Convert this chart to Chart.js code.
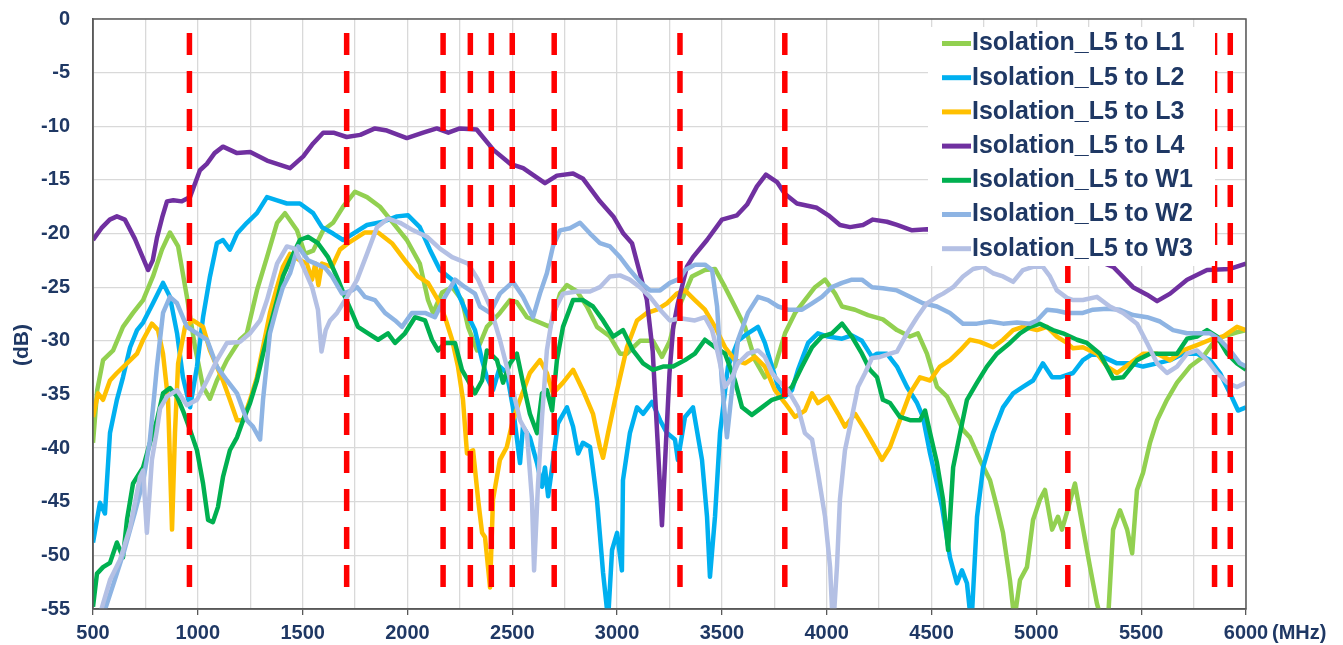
<!DOCTYPE html>
<html>
<head>
<meta charset="utf-8">
<script src="https://cdn.jsdelivr.net/npm/chart.js@4.4.1/dist/chart.umd.min.js"></script>
<style>
  html, body { margin: 0; padding: 0; background: #fff; }
  #wrap { width: 1343px; height: 645px; }
</style>
</head>
<body>
<div id="wrap"><canvas id="myChart" width="1343" height="645"></canvas></div>
<script>
// series labels / colours (same order as the Excel legend)
const seriesLabels = ['Isolation_L5 to L1', 'Isolation_L5 to L2', 'Isolation_L5 to L3', 'Isolation_L5 to L4',
                      'Isolation_L5 to W1', 'Isolation_L5 to W2', 'Isolation_L5 to W3'];
const seriesColors = ['#92d050', '#00b0f0', '#ffc000', '#7030a0', '#00b050', '#8eb4e3', '#b4c0e4'];

// band edge markers (MHz), drawn as red dashed verticals
const markerFreqs = [960, 1710, 2170, 2300, 2400, 2500, 2700, 3300, 3800, 5150, 5850, 5925];
const markerTop = -1.3;
const markerBottom = -53.9;

// [MHz, dB]
const isoL1 = [[500,-39.5],[520,-34.6],[548,-31.8],[596,-30.9],[643,-28.7],[691,-27.4],[739,-26.2],[786,-24.0],[829,-21.5],[867,-19.9],[906,-21.2],[948,-25.9],[987,-30.6],[1025,-34.3],[1058,-35.4],[1091,-33.7],[1139,-31.8],[1201,-29.9],[1234,-29.3],[1282,-25.3],[1330,-22.2],[1378,-19.0],[1416,-18.1],[1473,-19.7],[1511,-21.9],[1550,-21.6],[1598,-19.7],[1645,-19.0],[1693,-17.5],[1750,-16.1],[1807,-16.6],[1869,-17.5],[1931,-19.0],[1997,-20.6],[2059,-22.8],[2098,-26.2],[2122,-27.4],[2165,-25.5],[2213,-25.0],[2260,-26.2],[2289,-28.7],[2332,-30.9],[2356,-29.8],[2379,-28.7],[2441,-27.4],[2489,-26.2],[2522,-26.4],[2570,-27.8],[2632,-28.3],[2680,-28.7],[2728,-25.6],[2761,-24.8],[2809,-25.4],[2856,-26.8],[2904,-28.7],[2966,-29.6],[3014,-31.2],[3047,-31.2],[3109,-30.0],[3171,-30.0],[3214,-31.5],[3252,-30.0],[3285,-27.4],[3309,-26.2],[3357,-24.0],[3419,-23.4],[3467,-23.3],[3515,-25.0],[3562,-26.8],[3610,-28.7],[3658,-31.8],[3705,-33.4],[3753,-32.4],[3801,-29.3],[3849,-27.4],[3896,-26.2],[3944,-25.0],[3992,-24.3],[4040,-25.6],[4073,-26.8],[4135,-27.1],[4197,-27.6],[4268,-28.0],[4335,-29.0],[4397,-29.6],[4435,-29.3],[4478,-31.2],[4526,-34.3],[4574,-35.2],[4621,-37.1],[4650,-38.3],[4683,-39.0],[4731,-41.1],[4779,-43.0],[4812,-45.5],[4841,-47.9],[4874,-52.3],[4895,-56.0],[4922,-52.3],[4955,-51.1],[4984,-46.7],[5017,-44.8],[5041,-43.9],[5075,-47.6],[5103,-46.4],[5122,-47.6],[5146,-46.0],[5184,-43.3],[5218,-47.0],[5256,-51.1],[5289,-54.5],[5318,-56.5],[5342,-56.0],[5366,-47.6],[5399,-45.8],[5433,-47.6],[5457,-49.8],[5480,-43.9],[5509,-42.3],[5542,-39.5],[5576,-37.4],[5623,-35.5],[5671,-33.9],[5733,-32.4],[5795,-31.5],[5843,-30.2],[5890,-29.6],[5957,-29.2],[6000,-29.0]];

const isoL2 = [[500,-48.8],[533,-45.1],[557,-46.1],[581,-38.6],[614,-35.5],[643,-33.4],[677,-30.6],[710,-29.0],[739,-28.3],[786,-26.5],[834,-24.6],[867,-25.9],[901,-29.3],[929,-33.4],[963,-36.2],[996,-32.4],[1025,-27.8],[1058,-24.0],[1091,-20.9],[1120,-20.6],[1153,-21.5],[1187,-20.0],[1234,-19.0],[1282,-18.1],[1330,-16.6],[1378,-16.9],[1425,-17.2],[1487,-17.2],[1550,-18.1],[1592,-19.4],[1645,-20.0],[1693,-20.6],[1741,-20.0],[1807,-19.2],[1884,-18.9],[1950,-18.4],[2003,-18.3],[2059,-19.4],[2107,-21.5],[2155,-23.4],[2213,-24.3],[2275,-27.1],[2322,-29.0],[2356,-31.8],[2379,-33.4],[2408,-34.6],[2441,-32.4],[2474,-33.0],[2503,-36.2],[2537,-41.4],[2551,-38.0],[2584,-39.0],[2618,-41.4],[2642,-43.6],[2656,-41.8],[2671,-44.5],[2690,-41.8],[2718,-37.7],[2761,-36.2],[2790,-38.0],[2814,-40.5],[2837,-39.5],[2871,-39.9],[2904,-44.8],[2933,-51.6],[2957,-56.0],[2976,-49.5],[3000,-47.9],[3023,-51.4],[3028,-43.0],[3061,-38.6],[3095,-36.2],[3124,-36.8],[3167,-35.7],[3205,-37.4],[3238,-38.6],[3276,-39.2],[3290,-41.1],[3324,-37.1],[3362,-36.2],[3405,-41.1],[3429,-46.4],[3443,-52.0],[3467,-46.4],[3491,-38.6],[3529,-32.4],[3577,-30.0],[3624,-29.3],[3672,-28.7],[3705,-30.2],[3739,-32.4],[3768,-34.3],[3801,-35.2],[3834,-34.6],[3863,-32.7],[3911,-30.2],[3958,-29.3],[4006,-29.6],[4073,-29.8],[4120,-29.5],[4168,-30.0],[4216,-31.5],[4240,-31.2],[4287,-31.2],[4335,-32.4],[4383,-34.3],[4431,-35.8],[4459,-37.1],[4493,-40.5],[4526,-43.3],[4550,-45.5],[4588,-50.2],[4621,-52.6],[4645,-51.4],[4669,-52.6],[4690,-56.5],[4717,-46.4],[4746,-41.8],[4793,-38.6],[4841,-36.2],[4889,-34.9],[4936,-34.3],[4984,-33.7],[5031,-32.1],[5075,-33.4],[5113,-33.4],[5175,-33.0],[5222,-31.8],[5270,-31.2],[5318,-31.5],[5385,-32.1],[5447,-32.1],[5509,-32.4],[5576,-32.1],[5638,-31.8],[5700,-31.2],[5766,-31.2],[5829,-31.8],[5876,-33.0],[5924,-34.9],[5962,-36.5],[6000,-36.2]];

const isoL3 = [[500,-37.1],[524,-34.9],[548,-35.5],[581,-33.7],[614,-33.0],[662,-32.1],[710,-31.2],[739,-29.9],[781,-28.4],[810,-29.0],[834,-31.2],[858,-35.5],[877,-47.6],[891,-38.6],[906,-32.1],[939,-28.7],[977,-28.1],[1025,-28.7],[1058,-30.9],[1091,-32.4],[1120,-33.7],[1153,-35.5],[1187,-37.4],[1216,-37.4],[1249,-35.5],[1282,-33.4],[1311,-30.6],[1344,-27.4],[1378,-25.0],[1406,-23.1],[1440,-21.9],[1487,-22.5],[1520,-22.8],[1545,-24.3],[1560,-22.8],[1575,-24.8],[1592,-22.8],[1640,-23.1],[1678,-21.5],[1717,-20.9],[1797,-19.9],[1860,-19.9],[1926,-20.9],[1988,-22.5],[2050,-24.0],[2098,-24.6],[2146,-26.2],[2179,-27.8],[2213,-29.9],[2241,-32.4],[2265,-35.5],[2284,-40.5],[2313,-40.2],[2337,-44.8],[2356,-47.9],[2370,-48.3],[2394,-53.0],[2408,-44.8],[2441,-41.1],[2474,-39.9],[2503,-37.4],[2537,-35.5],[2584,-33.0],[2632,-31.8],[2665,-33.0],[2694,-34.9],[2742,-33.9],[2790,-32.7],[2837,-34.6],[2885,-36.8],[2918,-39.9],[2933,-40.9],[2957,-38.6],[3000,-34.6],[3047,-30.6],[3095,-28.1],[3143,-27.4],[3190,-27.1],[3238,-26.5],[3285,-25.6],[3324,-25.3],[3371,-26.2],[3419,-27.1],[3467,-28.7],[3515,-30.6],[3562,-31.8],[3610,-32.1],[3658,-31.5],[3705,-32.4],[3753,-34.6],[3801,-35.8],[3849,-37.1],[3896,-36.5],[3930,-34.9],[3958,-35.8],[4006,-35.2],[4054,-36.8],[4087,-38.0],[4135,-36.8],[4183,-38.3],[4230,-39.9],[4264,-41.1],[4302,-39.9],[4349,-37.4],[4397,-34.9],[4445,-33.4],[4493,-33.7],[4540,-32.4],[4588,-31.8],[4636,-30.9],[4683,-29.9],[4731,-30.1],[4793,-30.6],[4841,-29.9],[4889,-29.0],[4936,-28.7],[5003,-29.0],[5051,-28.7],[5098,-29.6],[5146,-30.2],[5175,-30.7],[5222,-30.6],[5289,-31.2],[5337,-32.4],[5385,-33.0],[5447,-32.1],[5509,-31.2],[5576,-31.2],[5638,-31.8],[5700,-30.9],[5766,-30.4],[5829,-29.9],[5890,-29.6],[5957,-28.7],[6000,-29.0]];

const isoL4 = [[500,-20.6],[540,-19.5],[580,-18.7],[614,-18.4],[652,-18.7],[700,-20.5],[763,-23.4],[785,-22.5],[805,-20.4],[830,-18.5],[853,-17.0],[883,-16.9],[924,-17.0],[963,-16.6],[1010,-14.1],[1043,-13.5],[1080,-12.5],[1120,-11.9],[1187,-12.5],[1250,-12.4],[1330,-13.2],[1440,-13.9],[1503,-12.8],[1550,-11.6],[1598,-10.6],[1647,-10.6],[1710,-11.0],[1775,-10.8],[1845,-10.2],[1902,-10.4],[1997,-11.1],[2075,-10.6],[2140,-10.2],[2195,-10.6],[2250,-10.2],[2330,-10.3],[2410,-12.2],[2490,-13.5],[2552,-13.9],[2656,-15.3],[2713,-14.6],[2790,-14.4],[2838,-14.9],[2918,-17.0],[2982,-18.4],[3030,-20.0],[3071,-20.9],[3109,-23.7],[3142,-26.2],[3170,-31.0],[3195,-40.0],[3214,-47.2],[3232,-40.0],[3250,-33.0],[3268,-28.7],[3290,-26.5],[3333,-23.1],[3362,-22.2],[3429,-20.6],[3500,-18.7],[3572,-18.3],[3620,-17.3],[3667,-15.6],[3710,-14.5],[3763,-15.2],[3800,-16.3],[3858,-17.2],[3953,-17.6],[4008,-18.3],[4063,-19.2],[4111,-19.4],[4173,-19.2],[4220,-18.7],[4287,-18.9],[4335,-19.2],[4407,-19.7],[4478,-19.6],[4600,-20.1],[4750,-20.6],[4900,-21.2],[5050,-21.6],[5200,-22.2],[5300,-22.6],[5366,-23.1],[5461,-25.0],[5528,-25.7],[5576,-26.3],[5638,-25.6],[5719,-24.3],[5814,-23.4],[5923,-23.3],[6000,-22.8]];

const isoW1 = [[500,-54.8],[519,-51.7],[548,-51.1],[581,-50.7],[614,-48.8],[643,-50.2],[662,-46.7],[691,-43.3],[739,-41.8],[772,-39.5],[805,-37.4],[834,-34.9],[867,-34.4],[901,-35.2],[929,-36.5],[963,-38.3],[996,-40.2],[1025,-43.3],[1049,-46.7],[1072,-46.9],[1096,-45.5],[1120,-42.7],[1153,-40.2],[1187,-39.0],[1216,-37.4],[1249,-35.8],[1282,-33.7],[1311,-31.2],[1344,-28.7],[1378,-26.2],[1406,-24.0],[1440,-22.5],[1487,-20.6],[1526,-20.3],[1573,-20.9],[1621,-22.2],[1669,-24.3],[1702,-25.9],[1736,-27.4],[1764,-28.7],[1812,-29.3],[1860,-29.9],[1907,-29.3],[1941,-30.2],[1988,-29.3],[2036,-27.8],[2084,-28.1],[2117,-29.9],[2146,-30.9],[2179,-30.2],[2227,-30.2],[2260,-32.7],[2289,-33.7],[2322,-34.9],[2356,-33.7],[2379,-30.9],[2427,-31.8],[2456,-33.9],[2489,-32.1],[2522,-31.2],[2551,-33.9],[2584,-36.8],[2618,-38.6],[2642,-34.9],[2665,-34.6],[2690,-36.5],[2713,-31.8],[2742,-28.7],[2790,-26.2],[2837,-26.2],[2885,-26.8],[2933,-28.1],[2981,-29.6],[3028,-29.0],[3076,-30.9],[3124,-32.1],[3171,-32.7],[3219,-32.4],[3267,-32.4],[3324,-31.8],[3371,-31.2],[3419,-29.9],[3467,-30.6],[3515,-31.2],[3562,-33.7],[3596,-36.2],[3643,-36.9],[3691,-36.2],[3739,-35.5],[3787,-35.2],[3834,-34.3],[3882,-32.4],[3930,-30.6],[3977,-29.6],[4025,-29.3],[4073,-28.4],[4120,-29.6],[4168,-31.2],[4206,-32.7],[4240,-33.4],[4268,-35.5],[4302,-35.8],[4349,-37.1],[4397,-37.4],[4445,-37.4],[4469,-36.5],[4493,-38.6],[4526,-41.4],[4555,-44.8],[4579,-49.5],[4603,-41.8],[4636,-38.6],[4669,-35.5],[4717,-33.9],[4764,-32.4],[4812,-31.2],[4874,-30.2],[4922,-29.3],[4970,-28.7],[5017,-28.4],[5079,-29.0],[5127,-29.3],[5194,-29.9],[5241,-30.2],[5303,-31.2],[5366,-33.5],[5414,-33.4],[5480,-31.8],[5542,-31.2],[5604,-31.2],[5671,-31.2],[5719,-29.8],[5766,-29.6],[5814,-29.0],[5862,-29.6],[5910,-31.2],[5957,-32.1],[6000,-32.7]];

const isoW2 = [[500,-60.0],[550,-55.5],[600,-52.5],[650,-49.5],[700,-46.0],[740,-43.0],[770,-39.5],[790,-35.5],[805,-32.4],[834,-27.4],[867,-25.9],[901,-26.5],[948,-28.7],[996,-29.3],[1044,-29.9],[1091,-32.4],[1139,-33.7],[1187,-34.9],[1234,-37.4],[1263,-38.0],[1297,-39.2],[1311,-35.5],[1344,-29.3],[1378,-26.8],[1406,-25.0],[1440,-23.7],[1478,-21.2],[1526,-22.5],[1573,-22.9],[1607,-23.2],[1640,-24.0],[1688,-25.6],[1736,-25.3],[1760,-25.0],[1797,-25.9],[1845,-26.2],[1893,-27.4],[1941,-28.1],[1974,-28.7],[2021,-27.4],[2084,-27.4],[2131,-27.8],[2179,-25.9],[2227,-24.3],[2275,-25.0],[2322,-25.6],[2346,-26.8],[2394,-27.4],[2441,-25.6],[2503,-24.5],[2551,-25.9],[2599,-27.8],[2632,-25.6],[2665,-23.7],[2694,-21.2],[2728,-19.7],[2775,-19.5],[2823,-19.0],[2871,-20.0],[2918,-20.9],[2966,-21.2],[3014,-22.2],[3061,-23.4],[3109,-24.5],[3157,-25.3],[3205,-25.3],[3252,-24.6],[3300,-24.2],[3324,-23.4],[3371,-22.9],[3419,-22.9],[3453,-23.4],[3477,-26.8],[3500,-33.9],[3524,-39.0],[3548,-34.6],[3577,-29.9],[3624,-27.4],[3672,-25.9],[3720,-26.2],[3768,-26.8],[3815,-27.1],[3882,-27.1],[3930,-26.5],[3977,-25.9],[4025,-25.0],[4073,-24.6],[4120,-24.3],[4168,-24.3],[4216,-25.0],[4268,-25.1],[4335,-25.3],[4397,-25.9],[4459,-26.5],[4526,-26.8],[4588,-27.4],[4650,-28.4],[4717,-28.4],[4779,-28.2],[4841,-28.4],[4907,-28.3],[4970,-28.4],[5003,-28.1],[5051,-27.1],[5098,-27.2],[5146,-27.4],[5222,-27.4],[5270,-27.1],[5337,-27.0],[5399,-27.1],[5461,-27.6],[5528,-27.8],[5590,-28.2],[5652,-29.0],[5719,-29.3],[5781,-29.3],[5829,-29.3],[5876,-29.9],[5924,-30.9],[5971,-32.1],[6000,-32.4]];

const isoW3 = [[500,-60.0],[533,-55.5],[581,-52.3],[629,-50.4],[677,-47.4],[724,-42.7],[739,-42.1],[757,-47.9],[781,-41.1],[805,-38.3],[820,-36.3],[853,-35.2],[901,-34.6],[948,-36.0],[996,-35.5],[1044,-33.7],[1091,-31.8],[1139,-30.2],[1201,-30.1],[1249,-29.3],[1297,-28.1],[1330,-26.2],[1378,-22.8],[1425,-21.2],[1463,-21.4],[1503,-23.1],[1545,-25.0],[1573,-27.1],[1590,-31.0],[1610,-29.0],[1631,-28.1],[1664,-27.4],[1712,-25.9],[1760,-24.3],[1807,-21.9],[1855,-19.4],[1908,-18.6],[1965,-19.0],[2027,-19.7],[2093,-20.3],[2155,-21.4],[2213,-22.2],[2289,-22.8],[2337,-24.3],[2394,-26.8],[2441,-29.9],[2474,-32.4],[2503,-34.6],[2537,-37.4],[2570,-38.6],[2594,-44.8],[2604,-51.4],[2623,-43.3],[2642,-37.1],[2665,-30.9],[2694,-27.4],[2742,-25.6],[2809,-25.4],[2871,-25.4],[2918,-25.0],[2966,-24.0],[3014,-23.9],[3061,-24.3],[3109,-25.0],[3157,-25.9],[3205,-27.1],[3252,-28.1],[3300,-27.9],[3371,-28.1],[3419,-27.8],[3453,-29.0],[3481,-31.2],[3515,-34.3],[3548,-33.4],[3577,-32.1],[3624,-31.2],[3672,-30.9],[3705,-31.5],[3739,-33.0],[3768,-33.7],[3815,-34.6],[3863,-36.2],[3896,-38.6],[3930,-39.2],[3958,-42.3],[3992,-46.4],[4016,-51.1],[4030,-57.0],[4049,-51.0],[4063,-44.8],[4087,-40.2],[4120,-37.1],[4149,-34.3],[4183,-33.0],[4216,-31.6],[4254,-31.5],[4302,-31.2],[4335,-31.0],[4383,-29.3],[4431,-27.8],[4478,-26.5],[4526,-25.9],[4555,-25.6],[4603,-25.0],[4650,-24.0],[4698,-23.3],[4746,-23.1],[4793,-23.7],[4841,-24.0],[4889,-24.5],[4936,-23.4],[4984,-23.1],[5031,-23.1],[5065,-24.0],[5098,-25.3],[5146,-26.0],[5175,-26.2],[5222,-26.2],[5289,-25.9],[5351,-26.8],[5414,-27.4],[5480,-28.4],[5528,-30.2],[5576,-32.1],[5623,-33.0],[5671,-32.4],[5719,-31.2],[5766,-30.9],[5814,-31.8],[5862,-33.0],[5910,-33.9],[5957,-34.3],[6000,-33.9]];

const seriesData = [isoL1, isoL2, isoL3, isoL4, isoW1, isoW2, isoW3];

const textColor = '#1f3864';
const fontFamily = "'Liberation Sans', Arial, sans-serif";
const tickFont = { family: fontFamily, size: 20, weight: 'bold' };

var datasets = [];
markerFreqs.forEach(function (f) {
    datasets.push({
        label: 'marker ' + f,
        data: [{ x: f, y: markerTop }, { x: f, y: markerBottom }],
        borderColor: '#ff0000',
        borderWidth: 5.5,
        borderDash: [22, 16],
        borderCapStyle: 'butt',
        pointRadius: 0,
        order: 0,
        clip: 0,
    });
});
seriesData.forEach(function (pts, i) {
    datasets.push({
        label: seriesLabels[i],
        data: pts.map(p => ({ x: p[0], y: p[1] })),
        borderColor: seriesColors[i],
        backgroundColor: seriesColors[i],
        borderWidth: 4.5,
        borderJoinStyle: 'round',
        pointRadius: 0,
        tension: 0,
        order: 10 - i,  // later series drawn on top, like Excel
        clip: 0,
    });
});

// frame, legend box and axis unit texts
const overlay = {
    id: 'overlay',
    afterDraw: (chart) => {
        const { ctx, chartArea: a } = chart;
        ctx.save();
        ctx.strokeStyle = '#595959';
        ctx.lineWidth = 1.5;
        ctx.strokeRect(a.left, a.top, a.right - a.left, a.bottom - a.top);

        // legend (white box inside the plot, top right)
        ctx.fillStyle = '#ffffff';
        ctx.fillRect(928, 27, 287, 239);
        ctx.font = 'bold 25px ' + fontFamily;
        ctx.textBaseline = 'middle';
        ctx.textAlign = 'left';
        seriesLabels.forEach((lab, i) => {
            const y = 43.5 + i * 34.2;
            ctx.strokeStyle = seriesColors[i];
            ctx.lineWidth = 5;
            ctx.beginPath();
            ctx.moveTo(942, y);
            ctx.lineTo(971, y);
            ctx.stroke();
            ctx.fillStyle = textColor;
            ctx.fillText(lab, 972, y);
        });

        // units
        ctx.fillStyle = textColor;
        ctx.font = 'bold 20px ' + fontFamily;
        ctx.fillText('(MHz)', 1272, 633);
        ctx.translate(22, 345);
        ctx.rotate(-Math.PI / 2);
        ctx.textAlign = 'center';
        ctx.font = 'bold 21px ' + fontFamily;
        ctx.fillText('(dB)', 0, 0);
        ctx.restore();
    }
};

new Chart(document.getElementById('myChart'), {
    type: 'line',
    data: { datasets: datasets },
    options: {
        responsive: false,
        animation: false,
        devicePixelRatio: 1,
        layout: { padding: { top: 19, right: 97, left: 0, bottom: 0 } },
        plugins: {
            legend: { display: false },
            tooltip: { enabled: false },
        },
        scales: {
            x: {
                type: 'linear',
                min: 500,
                max: 6000,
                afterFit: (s) => { s.height = 36; },
                ticks: {
                    stepSize: 250,
                    autoSkip: false,
                    maxRotation: 0,
                    padding: 6,
                    color: textColor,
                    font: tickFont,
                    callback: (v) => (v % 500 === 0 ? String(v) : ''),
                },
                grid: {
                    color: '#d9d9d9',
                    lineWidth: 1.3,
                    tickLength: 6,
                    tickColor: (c) => (c.tick && c.tick.value % 500 === 0 ? '#595959' : 'rgba(0,0,0,0)'),
                },
                border: { color: '#595959', width: 1.5 },
            },
            y: {
                min: -55,
                max: 0,
                afterFit: (s) => { s.width = 93; },
                // gap between labels and axis comes from an invisible tick mark,
                // ticks.padding would also push the plot top down
                ticks: { stepSize: 5, padding: 0, color: textColor, font: tickFont },
                grid: { color: '#d9d9d9', lineWidth: 1.3, drawTicks: true, tickLength: 23, tickColor: 'rgba(0,0,0,0)' },
                border: { color: '#595959', width: 1.5 },
            },
        },
    },
    plugins: [overlay],
});
</script>
</body>
</html>
